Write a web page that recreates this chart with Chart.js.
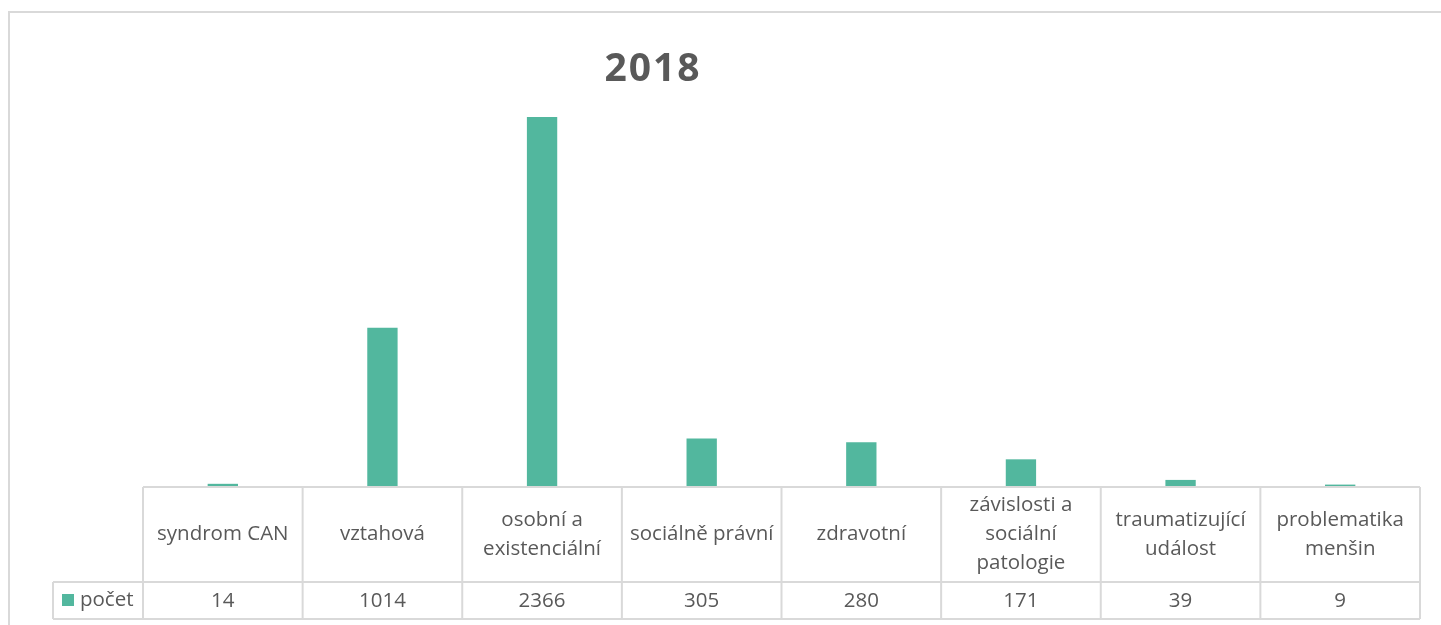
<!DOCTYPE html>
<html>
<head>
<meta charset="utf-8">
<script src="https://cdn.jsdelivr.net/npm/chart.js@4"></script>
<style>
  html, body { margin: 0; padding: 0; background: #fff; }
  #wrap { position: relative; width: 1441px; height: 625px; }
</style>
</head>
<body>
<div id="wrap"><canvas id="chart" width="1441" height="625"></canvas></div>
<script>
// data
const chartTitle = '2018';
const seriesName = 'počet';
const categories = [
    ['syndrom CAN'],
    ['vztahová'],
    ['osobní a', 'existenciální'],
    ['sociálně právní'],
    ['zdravotní'],
    ['závislosti a', 'sociální', 'patologie'],
    ['traumatizující', 'událost'],
    ['problematika', 'menšin']
];
const counts = [14, 1014, 2366, 305, 280, 171, 39, 9];

const barColor = '#52b79e';
const gridColor = '#d9d9d9';
const textColor = '#595959';
const fontFamily = '"Open Sans", "Noto Sans", sans-serif';

// frame, title and data table drawn around the plot
const tablePlugin = {
    id: 'dataTable',
    afterDraw(chart) {
        const ctx = chart.ctx;
        const area = chart.chartArea;
        const x = chart.scales.x;
        const half = (area.right - area.left) / categories.length / 2;
        const headTop = area.bottom + 1;
        const rowTop = 582;
        const rowBottom = 619;
        const legendLeft = 53;

        ctx.save();
        // outer frame
        ctx.strokeStyle = gridColor;
        ctx.lineWidth = 2;
        ctx.beginPath();
        ctx.moveTo(9, 625);
        ctx.lineTo(9, 12);
        ctx.lineTo(1441, 12);
        ctx.stroke();

        // title
        ctx.fillStyle = textColor;
        ctx.font = 'bold 39px ' + fontFamily;
        ctx.textAlign = 'center';
        ctx.textBaseline = 'middle';
        if (ctx.letterSpacing !== undefined) ctx.letterSpacing = '2px';
        ctx.fillText(chartTitle, 653, 70);
        if (ctx.letterSpacing !== undefined) ctx.letterSpacing = '0px';

        // table grid (drawn over the plot baseline)
        ctx.strokeStyle = gridColor;
        ctx.lineWidth = 2;
        ctx.beginPath();
        ctx.moveTo(area.left, headTop);
        ctx.lineTo(area.right, headTop);
        ctx.moveTo(legendLeft, rowTop);
        ctx.lineTo(area.right, rowTop);
        ctx.moveTo(legendLeft, rowBottom);
        ctx.lineTo(area.right, rowBottom);
        ctx.moveTo(legendLeft, rowTop);
        ctx.lineTo(legendLeft, rowBottom);
        for (let i = 0; i < categories.length; i++) {
            const left = x.getPixelForValue(i) - half;
            ctx.moveTo(left, headTop);
            ctx.lineTo(left, rowBottom);
        }
        ctx.moveTo(area.right, headTop);
        ctx.lineTo(area.right, rowBottom);
        ctx.stroke();

        // header labels and values
        ctx.fillStyle = textColor;
        ctx.font = '20.5px ' + fontFamily;
        const lineH = 29;
        const headMid = (headTop + rowTop) / 2;
        categories.forEach((lines, i) => {
            const cx = x.getPixelForValue(i);
            const y0 = headMid - (lines.length - 1) * lineH / 2;
            lines.forEach((t, j) => ctx.fillText(t, cx, y0 + j * lineH));
            ctx.fillText(String(counts[i]), cx, (rowTop + rowBottom) / 2 + 1);
        });

        // legend key
        ctx.fillStyle = barColor;
        ctx.fillRect(62, 594, 12, 12);
        ctx.fillStyle = textColor;
        ctx.textAlign = 'left';
        ctx.fillText(seriesName, 80, (rowTop + rowBottom) / 2);
        ctx.restore();
    }
};

new Chart(document.getElementById('chart'), {
    type: 'bar',
    data: {
        labels: categories,
        datasets: [{
            label: seriesName,
            data: counts,
            backgroundColor: barColor,
            barPercentage: 0.19,
            categoryPercentage: 1
        }]
    },
    options: {
        responsive: false,
        animation: false,
        layout: { padding: { left: 143, right: 21, top: 96, bottom: 139 } },
        plugins: {
            legend: { display: false },
            title: { display: false },
            tooltip: { enabled: false }
        },
        scales: {
            x: { display: false },
            y: { display: false, min: 0, max: 2500 }
        }
    },
    plugins: [tablePlugin]
});
</script>
</body>
</html>
